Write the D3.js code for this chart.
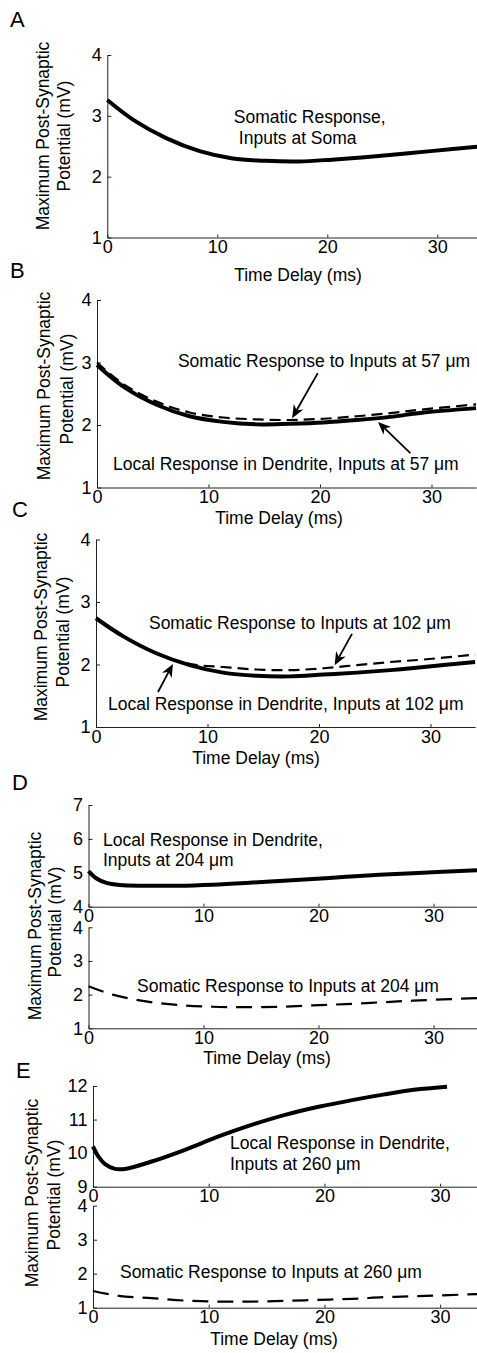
<!DOCTYPE html>
<html>
<head>
<meta charset="utf-8">
<script src="https://cdn.jsdelivr.net/npm/d3@7/dist/d3.min.js"></script>
<style>
  body { margin: 0; background: #fff; }
  svg { display: block; font-family: 'Liberation Sans', Arial, sans-serif; }
  .axis path, .axis line { stroke: #222; stroke-width: 1; }
  .axis text { font-family: 'Liberation Sans', Arial, sans-serif; font-size: 18px; fill: #000; }
  .note { font-size: 17.5px; fill: #000; }
  .letter { font-size: 22px; fill: #000; }
</style>
</head>
<body>
<svg id="fig" width="477" height="1353"></svg>
<script>
// time delay (ms) and peak PSP (mV)
const tA = [0, 2.4, 5.4, 8.4, 11.4, 14.4, 17.4, 20.4, 23.4, 26.4, 29.4, 34];
const somaA = [3.26, 2.93, 2.63, 2.42, 2.30, 2.26, 2.25, 2.28, 2.32, 2.37, 2.42, 2.50];

const tB = [0, 2.4, 5.4, 8.3, 11.3, 14.3, 17.3, 20.3, 23.3, 26.3, 29.3, 34];
const localB = [2.96, 2.61, 2.32, 2.14, 2.05, 2.01, 2.02, 2.04, 2.08, 2.13, 2.20, 2.27];
const somaB = [3.0, 2.65, 2.37, 2.20, 2.12, 2.09, 2.08, 2.10, 2.14, 2.19, 2.25, 2.33];

const tC = [0, 2.45, 5.4, 8.4, 11.4, 14.4, 17.4, 20.4, 23.4, 26.4, 29.4, 34];
const localC = [2.74, 2.45, 2.18, 1.99, 1.87, 1.82, 1.81, 1.84, 1.87, 1.91, 1.96, 2.04];
const somaC = [2.74, 2.45, 2.18, 2.01, 1.96, 1.92, 1.91, 1.94, 1.99, 2.04, 2.08, 2.16];

const tDlocal = [0, 0.67, 1.5, 2.7, 5, 7.9, 10.8, 13.7, 16.6, 19.5, 22.4, 25.3, 28.2, 34];
const localD = [5.05, 4.84, 4.71, 4.64, 4.62, 4.62, 4.65, 4.70, 4.76, 4.82, 4.88, 4.94, 4.99, 5.08];
const tDsoma = [0, 2.1, 5, 7.9, 10.8, 13.7, 16.6, 19.5, 22.4, 25.3, 28.2, 34];
const somaD = [2.25, 2.0, 1.80, 1.69, 1.64, 1.63, 1.64, 1.68, 1.72, 1.77, 1.82, 1.90];

const tElocal = [0, 0.46, 1.04, 1.9, 2.77, 5.07, 7.95, 10.8, 13.7, 16.6, 19.5, 22.4, 25.2, 28.1, 30.6];
const localE = [10.2, 9.9, 9.67, 9.53, 9.53, 9.75, 10.1, 10.49, 10.84, 11.14, 11.38, 11.58, 11.75, 11.90, 11.98];
const tEsoma = [0, 2.2, 5.07, 7.95, 10.8, 13.7, 16.6, 19.5, 22.4, 25.2, 28.1, 34];
const somaE = [1.49, 1.35, 1.28, 1.21, 1.18, 1.18, 1.20, 1.23, 1.26, 1.31, 1.34, 1.41];

const xTicks = [0, 10, 20, 30];
const mvTicks = [1, 2, 3, 4];
const mvTicksD = [4, 5, 6, 7];
const mvTicksE = [9, 10, 11, 12];

const zip = (t, v) => t.map((d, i) => [d, v[i]]);

const svg = d3.select('#fig');

// one entry per set of axes (D and E have two stacked axes)
const axesList = [
  {
    x0: 107.3, kx: 11.0, yDomain: [1, 4], yRange: [237.5, 55], yTicks: mvTicks,
    series: [{ data: zip(tA, somaA), width: 4 }],
    notes: [[11.5, 2.885, 'Somatic Response,'], [11.96, 2.54, 'Inputs at Soma']],
    arrows: [],
  },
  {
    x0: 97, kx: 11.15, yDomain: [1, 4], yRange: [487.5, 300], yTicks: mvTicks,
    series: [{ data: zip(tB, localB), width: 4 }, { data: zip(tB, somaB), width: 2.2, dash: '11,6' }],
    notes: [[7.26, 2.93, 'Somatic Response to Inputs at 57 μm'], [1.43, 1.28, 'Local Response in Dendrite, Inputs at 57 μm']],
    arrows: [[19.8, 2.83, 17.5, 2.11], [28.1, 1.55, 25.2, 2.05]],
  },
  {
    x0: 96, kx: 11.15, yDomain: [1, 4], yRange: [727, 539.5], yTicks: mvTicks,
    series: [{ data: zip(tC, localC), width: 4 }, { data: zip(tC, somaC), width: 2.2, dash: '11,6' }],
    notes: [[4.75, 2.57, 'Somatic Response to Inputs at 102 μm'], [1.08, 1.27, 'Local Response in Dendrite, Inputs at 102 μm']],
    arrows: [[22.96, 2.49, 21.4, 1.99], [5.56, 1.56, 6.9, 2.01]],
  },
  {
    x0: 88.5, kx: 11.5, yDomain: [4, 7], yRange: [906.7, 805], yTicks: mvTicksD,
    series: [{ data: zip(tDlocal, localD), width: 4 }],
    notes: [[1.26, 5.79, 'Local Response in Dendrite,'], [1.26, 5.2, 'Inputs at 204 μm']],
    arrows: [],
  },
  {
    x0: 88.5, kx: 11.5, yDomain: [1, 4], yRange: [1028.3, 927.3], yTicks: mvTicks,
    series: [{ data: zip(tDsoma, somaD), width: 2.2, dash: '16,9' }],
    notes: [[4.22, 2.08, 'Somatic Response to Inputs at 204 μm']],
    arrows: [],
  },
  {
    x0: 93, kx: 11.57, yDomain: [9, 12], yRange: [1186.7, 1086], yTicks: mvTicksE,
    series: [{ data: zip(tElocal, localE), width: 4 }],
    notes: [[11.84, 10.125, 'Local Response in Dendrite,'], [11.84, 9.5, 'Inputs at 260 μm']],
    arrows: [],
  },
  {
    x0: 93, kx: 11.57, yDomain: [1, 4], yRange: [1307.7, 1205.7], yTicks: mvTicks,
    series: [{ data: zip(tEsoma, somaE), width: 2.2, dash: '16,9' }],
    notes: [[2.33, 1.87, 'Somatic Response to Inputs at 260 μm']],
    arrows: [],
  },
];

function drawArrow(g, x1, y1, x2, y2) {
  const len = Math.hypot(x2 - x1, y2 - y1);
  const ux = (x2 - x1) / len;
  const uy = (y2 - y1) / len;
  const L = 13;
  const W = 5.5;
  const nx = x2 - 0.7 * L * ux;
  const ny = y2 - 0.7 * L * uy;
  g.append('line')
    .attr('x1', x1).attr('y1', y1).attr('x2', nx).attr('y2', ny)
    .attr('stroke', '#000').attr('stroke-width', 1.8);
  g.append('path')
    .attr('d', `M${x2},${y2}L${x2 - L * ux - W * uy},${y2 - L * uy + W * ux}L${nx},${ny}L${x2 - L * ux + W * uy},${y2 - L * uy - W * ux}Z`)
    .attr('fill', '#000');
}

axesList.forEach((ax) => {
  const x = d3.scaleLinear().domain([0, 34]).range([ax.x0, ax.x0 + 34 * ax.kx]);
  const y = d3.scaleLinear().domain(ax.yDomain).range(ax.yRange);
  const g = svg.append('g');

  g.append('g')
    .attr('class', 'axis')
    .attr('transform', `translate(0,${ax.yRange[0]})`)
    .call(d3.axisBottom(x).tickValues(xTicks).tickFormat(d3.format('d'))
      .tickSizeInner(-3).tickSizeOuter(0).tickPadding(3));

  g.append('g')
    .attr('class', 'axis')
    .attr('transform', `translate(${ax.x0},0)`)
    .call(d3.axisLeft(y).tickValues(ax.yTicks).tickFormat(d3.format('d'))
      .tickSizeInner(-4).tickSizeOuter(0).tickPadding(5.5));

  const line = d3.line()
    .x((d) => x(d[0]))
    .y((d) => y(d[1]))
    .curve(d3.curveCatmullRom.alpha(0.5));

  ax.series.forEach((s) => {
    g.append('path')
      .datum(s.data)
      .attr('d', line)
      .attr('fill', 'none')
      .attr('stroke', '#000')
      .attr('stroke-width', s.width)
      .attr('stroke-dasharray', s.dash || null);
  });

  ax.notes.forEach((n) => {
    g.append('text')
      .attr('class', 'note')
      .attr('x', x(n[0]))
      .attr('y', y(n[1]))
      .text(n[2]);
  });

  ax.arrows.forEach((a) => drawArrow(g, x(a[0]), y(a[1]), x(a[2]), y(a[3])));
});

// panel letters
const letters = [['A', 10, 27], ['B', 10, 278], ['C', 12, 517], ['D', 12, 790], ['E', 16, 1078]];
svg.selectAll('.letter')
  .data(letters)
  .enter()
  .append('text')
  .attr('class', 'letter')
  .attr('x', (d) => d[1])
  .attr('y', (d) => d[2])
  .text((d) => d[0]);

// x axis titles
const xTitles = [[298, 281], [279, 524], [256, 764], [267, 1064], [274, 1345]];
xTitles.forEach((p) => {
  svg.append('text')
    .attr('class', 'note')
    .attr('x', p[0])
    .attr('y', p[1])
    .attr('text-anchor', 'middle')
    .text('Time Delay (ms)');
});

// y axis titles, two rotated lines each
const yTitles = [
  [43, 136, 64, 136],
  [44, 386, 67, 389],
  [41, 627, 63, 632],
  [35, 926, 55, 922],
  [32, 1193, 54, 1195],
];
yTitles.forEach((p) => {
  [['Maximum Post-Synaptic', p[0], p[1]], ['Potential (mV)', p[2], p[3]]].forEach((l) => {
    svg.append('text')
      .attr('class', 'note')
      .attr('transform', `translate(${l[1]},${l[2]}) rotate(-90)`)
      .attr('text-anchor', 'middle')
      .attr('dy', '0.35em')
      .text(l[0]);
  });
});
</script>
</body>
</html>
